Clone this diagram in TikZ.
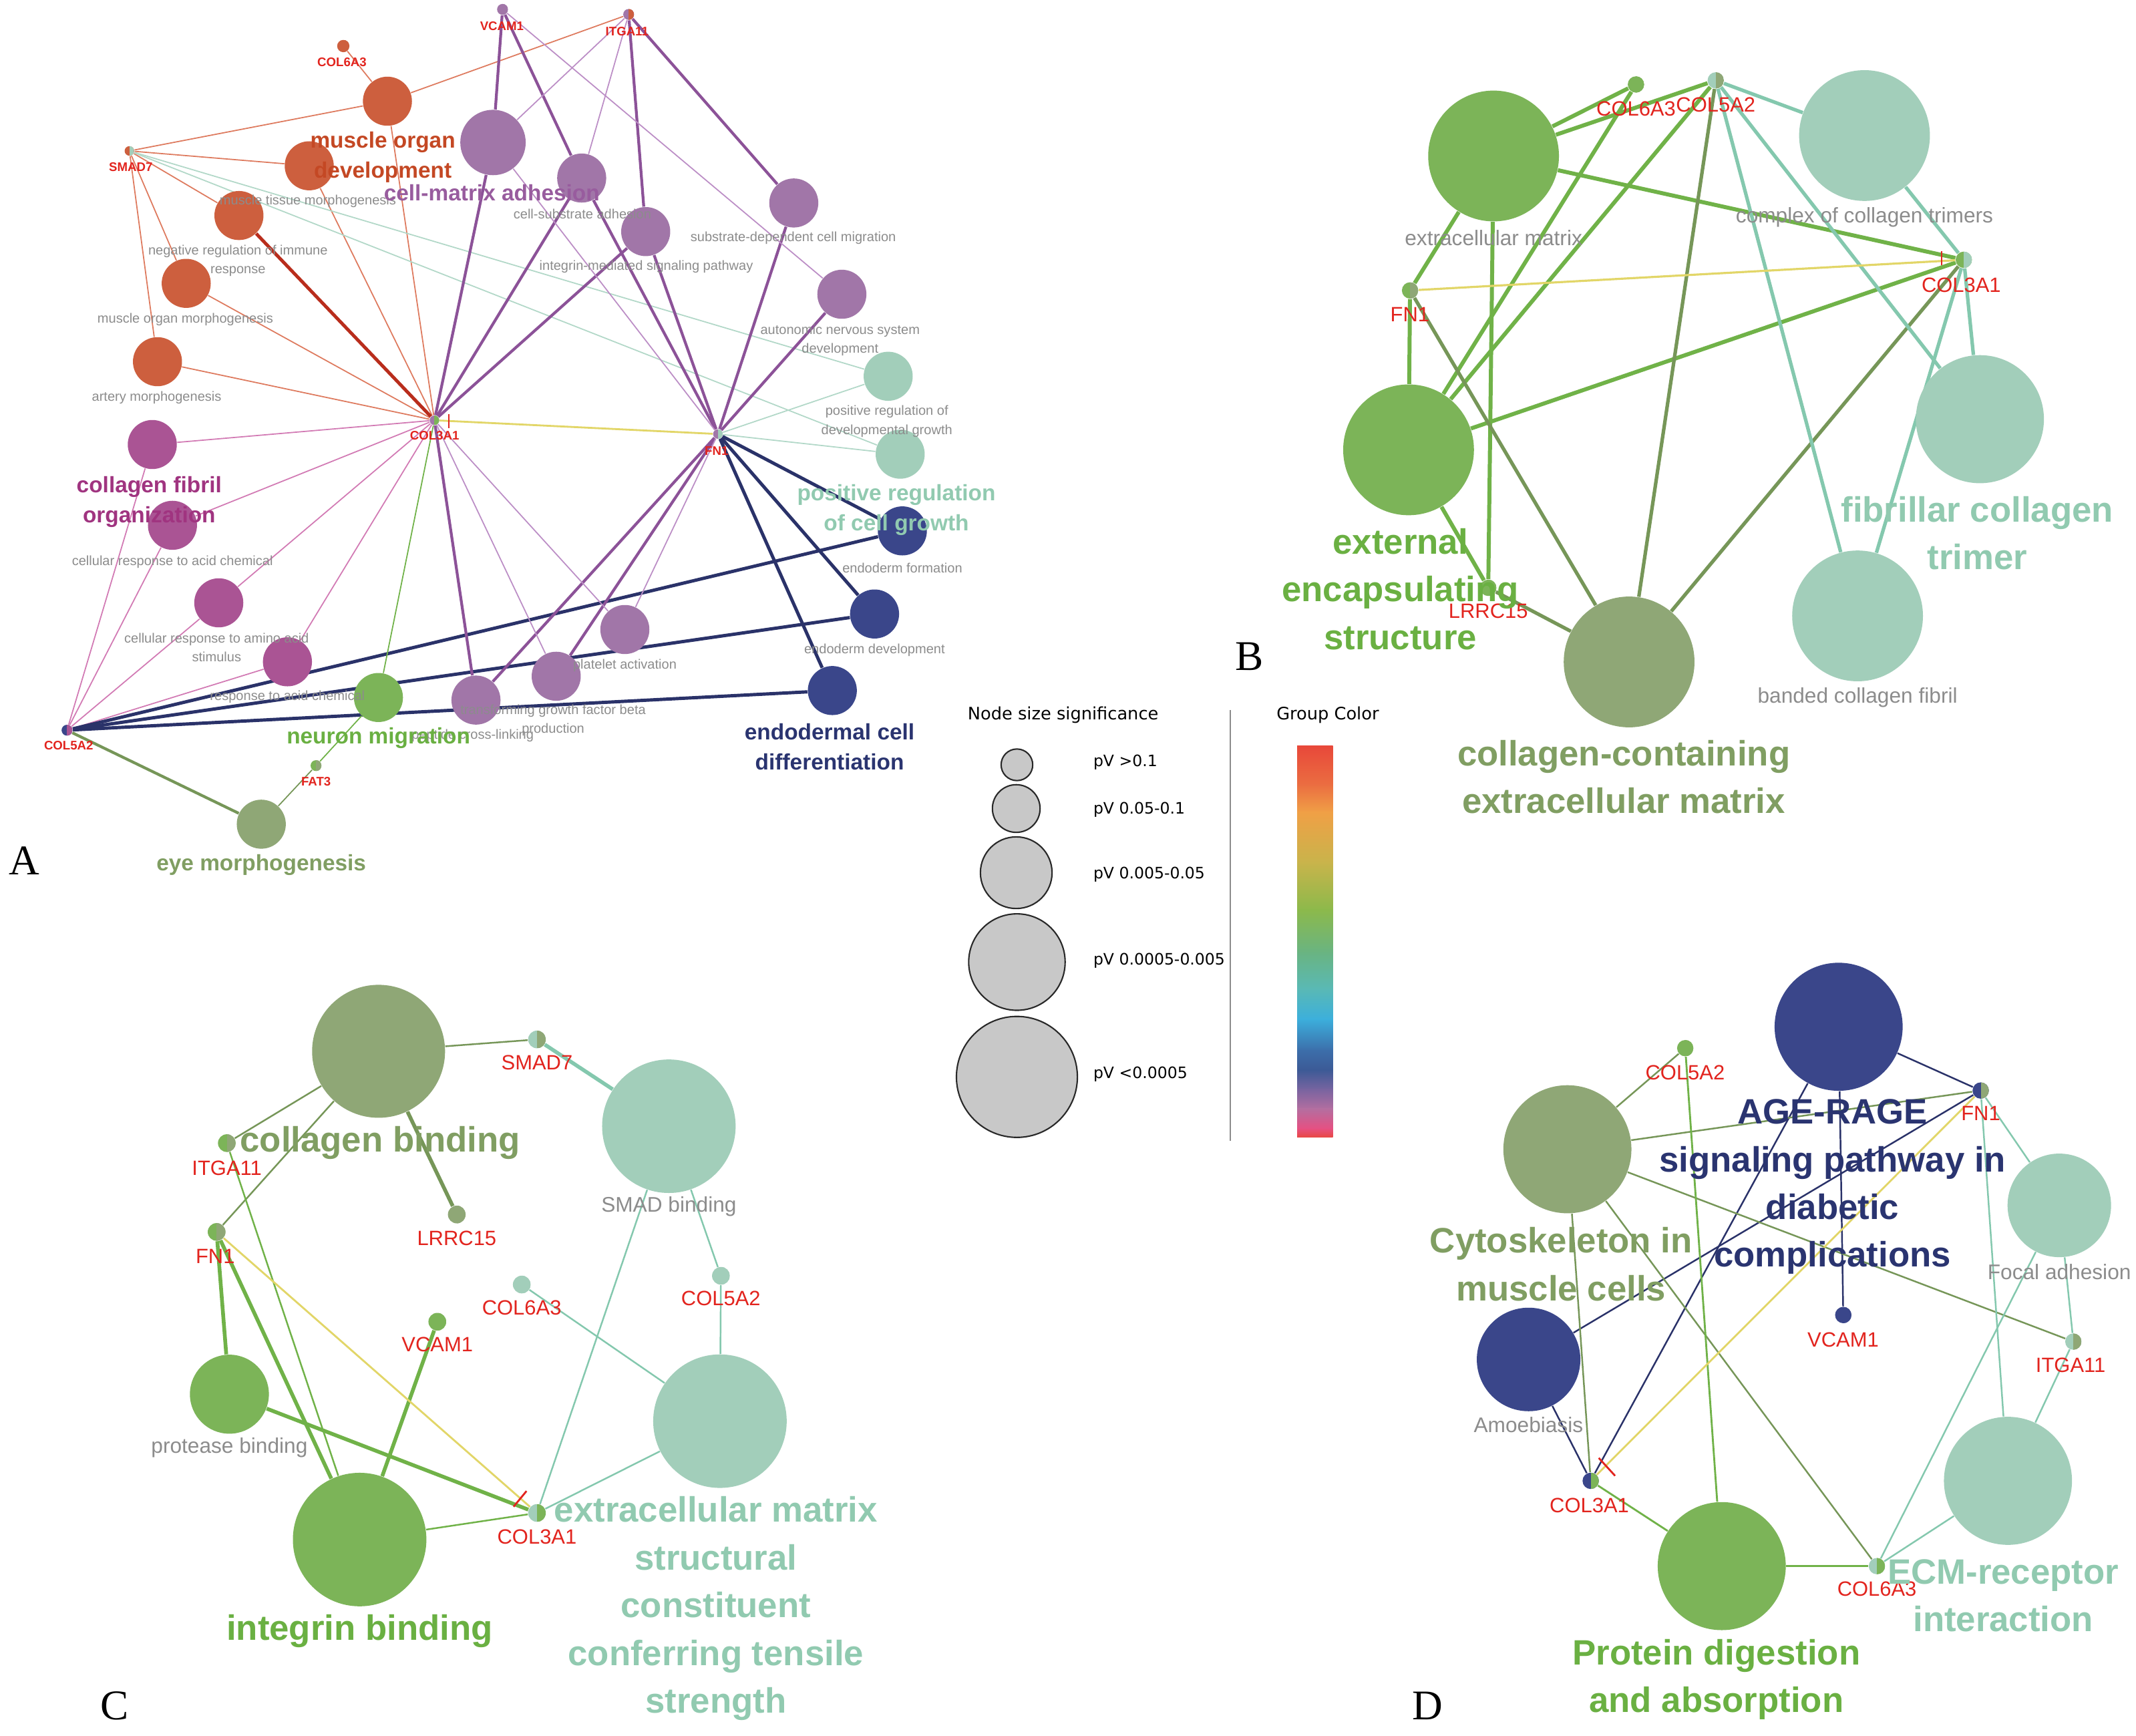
\documentclass[tikz,border=0pt]{standalone}
\usepackage{fontspec}
\setmainfont{Liberation Sans}
\newfontfamily\panelfont{Liberation Serif}
\newfontfamily\legendfont{DejaVu Sans}
\usepackage{tikz}
\usetikzlibrary{backgrounds}

\definecolor{orA}{RGB}{205,95,62}
\definecolor{orLn}{RGB}{222,122,94}
\definecolor{redLn}{RGB}{185,45,28}
\definecolor{magA}{RGB}{170,84,148}
\definecolor{magLn}{RGB}{210,122,180}
\definecolor{purA}{RGB}{161,118,168}
\definecolor{purLn}{RGB}{140,82,152}
\definecolor{purLt}{RGB}{188,142,198}
\definecolor{tealA}{RGB}{162,206,186}
\definecolor{tealLn}{RGB}{132,200,174}
\definecolor{tealLt}{RGB}{178,216,200}
\definecolor{navyA}{RGB}{58,70,138}
\definecolor{navyLn}{RGB}{42,50,105}
\definecolor{grnA}{RGB}{124,180,88}
\definecolor{grnLn}{RGB}{112,178,72}
\definecolor{olvA}{RGB}{143,167,118}
\definecolor{olvLn}{RGB}{118,150,88}
\definecolor{yelLn}{RGB}{226,214,104}
\definecolor{geneRed}{RGB}{226,36,30}
\definecolor{grayT}{RGB}{140,140,140}
\definecolor{musT}{RGB}{196,72,36}
\definecolor{purT}{RGB}{152,92,158}
\definecolor{magT}{RGB}{160,52,128}
\definecolor{tealT}{RGB}{145,202,176}
\definecolor{navyT}{RGB}{42,52,112}
\definecolor{grnT}{RGB}{106,176,66}
\definecolor{olvT}{RGB}{128,158,98}
\definecolor{legGray}{RGB}{200,200,200}
\definecolor{legLine}{RGB}{40,40,40}
\definecolor{gc0}{RGB}{232,72,58}
\definecolor{gc1}{RGB}{235,110,65}
\definecolor{gc2}{RGB}{240,160,70}
\definecolor{gc3}{RGB}{200,180,75}
\definecolor{gc4}{RGB}{140,185,75}
\definecolor{gc5}{RGB}{105,180,130}
\definecolor{gc6}{RGB}{90,185,180}
\definecolor{gc7}{RGB}{60,175,220}
\definecolor{gc8}{RGB}{60,110,170}
\definecolor{gc9}{RGB}{60,90,150}
\definecolor{gc10}{RGB}{120,100,160}
\definecolor{gc11}{RGB}{180,110,160}
\definecolor{gc12}{RGB}{230,80,130}
\definecolor{gc13}{RGB}{232,72,70}

\begin{document}
\begin{tikzpicture}[
    x=0.58pt, y=-0.58pt,
    term/.style 2 args={circle, fill=#1, inner sep=0pt, minimum size=#2*1.16pt},
    gene/.style n args={3}{circle, fill=#1, inner sep=0pt, minimum size=#3*1.16pt,
        path picture={\fill[#2] (path picture bounding box.south)
            rectangle (path picture bounding box.north east);}},
    gA/.style={font=\bfseries\fontsize{5.3}{6}\selectfont, text=geneRed, inner sep=0pt},
    gB/.style={font=\fontsize{8.8}{10}\selectfont, text=geneRed, inner sep=0pt},
    sA/.style={font=\fontsize{5.7}{8}\selectfont, text=grayT, align=center, inner sep=0pt},
    sB/.style={font=\fontsize{9}{10}\selectfont, text=grayT, inner sep=0pt},
    hA/.style={font=\bfseries\fontsize{9.5}{12.8}\selectfont, text=#1, align=center, inner sep=0pt},
    hB/.style={font=\bfseries\fontsize{15}{20.3}\selectfont, text=#1, align=center, inner sep=0pt},
    legtxt/.style={font=\legendfont\fontsize{6.7}{8}\selectfont, inner sep=0pt},
    legtitle/.style={font=\legendfont\fontsize{7.3}{8}\selectfont, inner sep=0pt},
    sizedot/.style={circle, fill=legGray, draw=legLine, line width=0.6pt,
        inner sep=0pt, minimum size=#1*1.16pt},
    panel/.style={font=\panelfont\fontsize{18}{18}\selectfont, inner sep=0pt},
    thinA/.style={line width=0.5pt},
    thickA/.style={line width=1.2pt}
]
\useasboundingbox (0,0) rectangle (1568,1274);

\node[term={orA}{18}] (aMusDev) at (284.4,74.3) {};
\node[term={orA}{18}] (aMusTis) at (227,121.7) {};
\node[term={orA}{18}] (aNegReg) at (175.4,158.2) {};
\node[term={orA}{18}] (aMusMor) at (136.7,208) {};
\node[term={orA}{18}] (aArtery) at (115.6,265.5) {};
\node[term={magA}{18}] (aColFib) at (111.8,326.3) {};
\node[term={magA}{18}] (aAcidCell) at (126.6,385.6) {};
\node[term={magA}{18}] (aAmino) at (160.6,442.5) {};
\node[term={magA}{18}] (aAcidResp) at (211,485.8) {};
\node[term={grnA}{18}] (aNeuron) at (277.8,512) {};
\node[term={olvA}{18}] (aEye) at (191.8,605) {};
\node[term={purA}{24}] (aCellMatrix) at (361.9,104.6) {};
\node[term={purA}{18}] (aCellSub) at (427,130.7) {};
\node[term={purA}{18}] (aIntegrin) at (474,170) {};
\node[term={purA}{18}] (aSubMig) at (582.7,149) {};
\node[term={purA}{18}] (aAutonomic) at (618,216) {};
\node[term={purA}{18}] (aPlatelet) at (458.7,462.1) {};
\node[term={purA}{18}] (aTGFB) at (408.3,496.4) {};
\node[term={purA}{18}] (aPeptide) at (349.4,513.9) {};
\node[term={tealA}{18}] (aDevGrowth) at (652,276.2) {};
\node[term={tealA}{18}] (aCellGrowth) at (660.8,333.4) {};
\node[term={navyA}{18}] (aEndoForm) at (662.4,389.7) {};
\node[term={navyA}{18}] (aEndoDev) at (642,450.7) {};
\node[term={navyA}{18}] (aEndoDiff) at (611,506.9) {};

\node[gene={orA}{orA}{4.5}] (aCOL6A3) at (252,33.8) {};
\node[gene={orA}{tealA}{3.5}] (aSMAD7) at (95,110.8) {};
\node[gene={purA}{purA}{4}] (aVCAM1) at (368.9,6.9) {};
\node[gene={purA}{orA}{4}] (aITGA11) at (461.5,10.6) {};
\node[gene={purA}{grnA}{3.5}] (aCOL3A1) at (318.9,308.5) {};
\node[gene={purA}{tealA}{3.5}] (aFN1) at (527,318.6) {};
\node[gene={navyA}{magA}{4}] (aCOL5A2) at (49.2,536) {};
\node[gene={grnA}{olvA}{4}] (aFAT3) at (232,562) {};

\node[gA] (aCOL6A3L) at (251,45.8) {COL6A3};
\node[gA] (aSMAD7L) at (96,122.5) {SMAD7};
\node[gA] (aVCAM1L) at (368.4,19.3) {VCAM1};
\node[gA] (aITGA11L) at (460.3,22.9) {ITGA11};
\node[gA] (aCOL3A1L) at (319,319.5) {COL3A1};
\node[gA] (aFN1L) at (526,331) {FN1};
\node[gA] (aCOL5A2L) at (50.4,547.4) {COL5A2};
\node[gA] (aFAT3L) at (232,573.6) {FAT3};

\node[sA] (aMusTisL) at (226,147.9) {muscle tissue morphogenesis};
\node[sA] (aNegRegL) at (174.7,191.2) {negative regulation of immune\\response};
\node[sA] (aMusMorL) at (136,234.5) {muscle organ morphogenesis};
\node[sA] (aArteryL) at (115,292) {artery morphogenesis};
\node[sA] (aAcidCellL) at (126.6,412.6) {cellular response to acid chemical};
\node[sA] (aAminoL) at (159,475.4) {cellular response to amino acid\\stimulus};
\node[sA] (aAcidRespL) at (211,511.5) {response to acid chemical};
\node[sA] (aCellSubL) at (427.5,157.2) {cell-substrate adhesion};
\node[sA] (aIntegrinL) at (474.4,195.6) {integrin-mediated signaling pathway};
\node[sA] (aSubMigL) at (582.3,174.5) {substrate-dependent cell migration};
\node[sA] (aAutonomicL) at (616.7,249.9) {autonomic nervous system\\development};
\node[sA] (aDevGrowthL) at (651,309.3) {positive regulation of\\developmental growth};
\node[sA] (aEndoFormL) at (662.4,416.7) {endoderm formation};
\node[sA] (aEndoDevL) at (642,477.2) {endoderm development};
\node[sA] (aPlateletL) at (458.7,488.6) {platelet activation};
\node[sA] (aTGFBL) at (406,528.6) {transforming growth factor beta\\production};
\node[sA] (aPeptideL) at (347,540) {peptide cross-linking};

\node[hA=musT] (aMusDevL) at (281,115.6) {muscle organ\\development};
\node[hA=purT] (aCellMatrixL) at (361,141.3) {cell-matrix adhesion};
\node[hA=magT] (aColFibL) at (109.5,368.5) {collagen fibril\\organization};
\node[hA=tealT] (aCellGrowthL) at (658,374.5) {positive regulation\\of cell growth};
\node[hA=navyT] (aEndoDiffL) at (609,548.2) {endodermal cell\\differentiation};
\node[hA=grnT] (aNeuronL) at (277.8,541.7) {neuron migration};
\node[hA=olvT] (aEyeL) at (191.8,634.8) {eye morphogenesis};

\draw[geneRed, line width=0.7pt] (329.4,303.9) -- (329.4,314.5);

\node[term={grnA}{48}] (bECM) at (1096.4,114.5) {};
\node[term={tealA}{48}] (bComplex) at (1368.7,99.5) {};
\node[term={grnA}{48}] (bExt) at (1034,330.2) {};
\node[term={tealA}{47}] (bFibr) at (1453.4,307.7) {};
\node[term={olvA}{48}] (bColECM) at (1195.9,485.9) {};
\node[term={tealA}{48}] (bBanded) at (1363.6,452.1) {};
\node[gene={grnA}{grnA}{6}] (bCOL6A3) at (1200.9,62) {};
\node[gene={tealA}{olvA}{6}] (bCOL5A2) at (1259.5,59) {};
\node[gene={grnA}{tealA}{6}] (bCOL3A1) at (1441.6,190.7) {};
\node[gene={grnA}{olvA}{6}] (bFN1) at (1035.1,213.2) {};
\node[gene={grnA}{grnA}{6}] (bLRRC15) at (1092.5,431.5) {};
\node[gB] (bCOL6A3L) at (1201,80) {COL6A3};
\node[gB] (bCOL5A2L) at (1259.5,77) {COL5A2};
\node[gB] (bCOL3A1L) at (1439.7,209.4) {COL3A1};
\node[gB] (bFN1L) at (1035,230.8) {FN1};
\node[gB] (bLRRC15L) at (1092.5,448.4) {LRRC15};
\node[sB] (bECML) at (1096.4,174.5) {extracellular matrix};
\node[sB] (bComplexL) at (1368.7,159.5) {complex of collagen trimers};
\node[sB] (bBandedL) at (1363.6,512) {banded collagen fibril};
\node[hB=grnT] (bExtL) at (1028,432.4) {external\\encapsulating\\structure};
\node[hB=tealT] (bFibrL) at (1451.4,391.2) {fibrillar collagen\\trimer};
\node[hB=olvT] (bColECML) at (1192,570.3) {collagen-containing\\extracellular matrix};
\draw[geneRed, line width=0.8pt] (1425.3,184.5) -- (1425.3,194.5);

\node[term={olvA}{48.8}] (cColBind) at (277.9,771.7) {};
\node[term={tealA}{49}] (cSMADBind) at (491,826.7) {};
\node[term={grnA}{29}] (cProtease) at (168.4,1023.4) {};
\node[term={tealA}{49}] (cECMStruct) at (528.5,1043.2) {};
\node[term={grnA}{49}] (cIntegrin) at (264,1130.1) {};
\node[gene={tealA}{olvA}{6.5}] (cSMAD7) at (394.2,763) {};
\node[gene={grnA}{olvA}{6.5}] (cITGA11) at (166.5,839.1) {};
\node[gene={olvA}{olvA}{6.5}] (cLRRC15) at (335.3,891.5) {};
\node[gene={grnA}{olvA}{6.5}] (cFN1) at (159,904.3) {};
\node[gene={tealA}{tealA}{6.5}] (cCOL6A3) at (383,942.9) {};
\node[gene={tealA}{tealA}{6.5}] (cCOL5A2) at (529.2,936.5) {};
\node[gene={grnA}{grnA}{6.5}] (cVCAM1) at (321,970.2) {};
\node[gene={tealA}{grnA}{6.5}] (cCOL3A1) at (394.2,1110.6) {};
\node[gB] (cSMAD7L) at (394.2,780) {SMAD7};
\node[gB] (cITGA11L) at (166.5,857.5) {ITGA11};
\node[gB] (cLRRC15L) at (335.3,909) {LRRC15};
\node[gB] (cFN1L) at (158,922.3) {FN1};
\node[gB] (cCOL6A3L) at (383,959.7) {COL6A3};
\node[gB] (cCOL5A2L) at (529.2,953.3) {COL5A2};
\node[gB] (cVCAM1L) at (321,987) {VCAM1};
\node[gB] (cCOL3A1L) at (394.2,1128.2) {COL3A1};
\node[sB] (cSMADBindL) at (491,885.5) {SMAD binding};
\node[sB] (cProteaseL) at (168.4,1062.7) {protease binding};
\node[hB=olvT] (cColBindL) at (279,839.1) {collagen binding};
\node[hB=grnT] (cIntegrinL) at (264,1197.5) {integrin binding};
\node[hB=tealT] (cECMStructL) at (525.5,1180.7)
    {extracellular matrix\\structural\\constituent\\conferring tensile\\strength};
\draw[geneRed, line width=0.8pt] (386.5,1094.5) -- (377,1106);

\node[term={navyA}{47}] (dAGE) at (1349.7,753.7) {};
\node[term={olvA}{47}] (dCyto) at (1150.6,843.6) {};
\node[term={tealA}{38}] (dFocal) at (1511.7,884.8) {};
\node[term={navyA}{38}] (dAmoeb) at (1122.1,997.9) {};
\node[term={tealA}{47}] (dECMRec) at (1474,1087) {};
\node[term={grnA}{47}] (dProtein) at (1263.9,1149.6) {};
\node[gene={grnA}{grnA}{6}] (dCOL5A2) at (1237.1,769.4) {};
\node[gene={navyA}{olvA}{6}] (dFN1) at (1454,800.5) {};
\node[gene={navyA}{navyA}{6}] (dVCAM1) at (1353.1,965.3) {};
\node[gene={tealA}{olvA}{6}] (dITGA11) at (1522,984.8) {};
\node[gene={navyA}{grnA}{6}] (dCOL3A1) at (1167.7,1087) {};
\node[gene={tealA}{grnA}{6}] (dCOL6A3) at (1377.8,1149.6) {};
\node[gB] (dCOL5A2L) at (1237,787.4) {COL5A2};
\node[gB] (dFN1L) at (1454,817.4) {FN1};
\node[gB] (dVCAM1L) at (1353,983.3) {VCAM1};
\node[gB] (dITGA11L) at (1520,1002) {ITGA11};
\node[gB] (dCOL3A1L) at (1166.7,1105) {COL3A1};
\node[gB] (dCOL6A3L) at (1377.8,1166.4) {COL6A3};
\node[sB] (dFocalL) at (1511.7,933.5) {Focal adhesion};
\node[sB] (dAmoebL) at (1122,1045.9) {Amoebiasis};
\node[hB=navyT] (dAGEL) at (1345.2,871.2)
    {AGE-RAGE\\signaling pathway in\\diabetic\\complications};
\node[hB=olvT] (dCytoL) at (1146,927.9) {Cytoskeleton in\\muscle cells};
\node[hB=tealT] (dECMRecL) at (1470.5,1171.4) {ECM-receptor\\interaction};
\node[hB=grnT] (dProteinL) at (1260,1232.8) {Protein digestion\\and absorption};
\draw[geneRed, line width=0.8pt] (1173.6,1070.2) -- (1185.6,1083.3);

\node[legtitle] (legSize) at (780.4,524.6) {Node size significance};
\node[legtitle] (legColor) at (974.7,524.6) {Group Color};
\node[sizedot=11.6] (lg1) at (746.5,561.4) {};
\node[sizedot=17.5] (lg2) at (746,593.5) {};
\node[sizedot=26.3] (lg3) at (746,640.6) {};
\node[sizedot=35.4] (lg4) at (746.5,706.2) {};
\node[sizedot=44.4] (lg5) at (746.5,790.5) {};
\node[legtxt, anchor=west] (lg1L) at (802.3,559.6) {pV >0.1};
\node[legtxt, anchor=west] (lg2L) at (802.3,594.2) {pV 0.05-0.1};
\node[legtxt, anchor=west] (lg3L) at (802.3,641.7) {pV 0.005-0.05};
\node[legtxt, anchor=west] (lg4L) at (802.3,705.1) {pV 0.0005-0.005};
\node[legtxt, anchor=west] (lg5L) at (802.3,788.3) {pV <0.0005};
\draw[grayT, line width=0.6pt] (903,521.3) -- (903,837.5);
\foreach \ya/\yb/\ca/\cb in {547.6/576.3/gc0/gc1, 576.3/596.3/gc1/gc2,
    596.3/633.6/gc2/gc3, 633.6/668/gc3/gc4, 668/699.5/gc4/gc5,
    699.5/725.3/gc5/gc6, 725.3/748.2/gc6/gc7, 748.2/771.1/gc7/gc8,
    771.1/785.5/gc8/gc9, 785.5/799.8/gc9/gc10, 799.8/814.1/gc10/gc11,
    814.1/828.5/gc11/gc12, 828.5/834.2/gc12/gc13}
    \shade[top color=\ca, bottom color=\cb] (952.2,\ya-0.3) rectangle (978.4,\yb+0.3);

\node[panel] (pA) at (18,632) {A};
\node[panel] (pB) at (917,482) {B};
\node[panel] (pC) at (84,1252) {C};
\node[panel] (pD) at (1048,1252) {D};

\begin{scope}[on background layer]
\fill[white] (0,0) rectangle (1568,1274);
\foreach \s/\t in {aSMAD7/aMusDev, aSMAD7/aMusTis, aSMAD7/aNegReg, aSMAD7/aMusMor,
    aSMAD7/aArtery, aCOL6A3/aMusDev, aITGA11/aMusDev, aMusDev/aCOL3A1,
    aMusTis/aCOL3A1, aMusMor/aCOL3A1, aArtery/aCOL3A1}
    \draw[orLn, thinA] (\s) -- (\t);
\draw[redLn, line width=1.4pt] (aNegReg) -- (aCOL3A1);
\foreach \s in {aColFib, aAcidCell, aAmino, aAcidResp}
    \draw[magLn, thinA] (aCOL5A2) -- (\s) -- (aCOL3A1);
\foreach \s/\t in {aSMAD7/aDevGrowth, aSMAD7/aCellGrowth, aFN1/aDevGrowth, aFN1/aCellGrowth}
    \draw[tealLt, thinA] (\s) -- (\t);
\foreach \t in {aEndoForm, aEndoDev, aEndoDiff}
    \draw[navyLn, line width=1.4pt] (aCOL5A2) -- (\t) -- (aFN1);
\draw[grnLn, thinA] (aCOL3A1) -- (aNeuron);
\draw[grnLn, thinA] (aNeuron) -- (aFAT3);
\draw[olvLn, thinA] (aFAT3) -- (aEye);
\draw[olvLn, line width=1.2pt] (aCOL5A2) -- (aEye);
\draw[yelLn, line width=0.8pt] (aCOL3A1) -- (aFN1);
\foreach \s/\t in {aVCAM1/aCellMatrix, aVCAM1/aCellSub, aITGA11/aIntegrin, aITGA11/aSubMig,
    aCellMatrix/aCOL3A1, aCellSub/aCOL3A1, aIntegrin/aCOL3A1, aCellSub/aFN1,
    aIntegrin/aFN1, aSubMig/aFN1, aAutonomic/aFN1, aCOL3A1/aPeptide,
    aPeptide/aFN1, aTGFB/aFN1}
    \draw[purLn, thickA] (\s) -- (\t);
\foreach \s/\t in {aVCAM1/aAutonomic, aITGA11/aCellMatrix, aITGA11/aCellSub,
    aCellMatrix/aFN1, aCOL3A1/aTGFB, aCOL3A1/aPlatelet, aPlatelet/aFN1}
    \draw[purLt, thinA] (\s) -- (\t);

\foreach \t in {bCOL6A3, bCOL5A2, bCOL3A1, bFN1, bLRRC15}
    \draw[grnLn, line width=1.7pt] (bECM) -- (\t);
\foreach \t in {bFN1, bCOL6A3, bCOL5A2, bCOL3A1, bLRRC15}
    \draw[grnLn, line width=1.7pt] (bExt) -- (\t);
\foreach \s in {bFN1, bLRRC15, bCOL5A2, bCOL3A1}
    \draw[olvLn, line width=1.5pt] (\s) -- (bColECM);
\foreach \s in {bCOL5A2, bCOL3A1}
    \foreach \t in {bComplex, bFibr, bBanded}
        \draw[tealLn, line width=1.5pt] (\s) -- (\t);
\draw[yelLn, line width=0.9pt] (bFN1) -- (bCOL3A1);

\foreach \t in {cSMAD7, cITGA11, cFN1}
    \draw[olvLn, line width=0.7pt] (cColBind) -- (\t);
\draw[olvLn, line width=1.6pt] (cColBind) -- (cLRRC15);
\draw[tealLn, line width=1.6pt] (cSMAD7) -- (cSMADBind);
\foreach \s/\t in {cITGA11/cIntegrin, cIntegrin/cCOL3A1}
    \draw[grnLn, line width=0.7pt] (\s) -- (\t);
\foreach \s/\t in {cFN1/cProtease, cFN1/cIntegrin, cVCAM1/cIntegrin, cProtease/cCOL3A1}
    \draw[grnLn, line width=1.6pt] (\s) -- (\t);
\draw[yelLn, line width=0.8pt] (cFN1) -- (cCOL3A1);
\foreach \s/\t in {cSMADBind/cCOL3A1, cSMADBind/cCOL5A2, cCOL5A2/cECMStruct,
    cCOL6A3/cECMStruct, cECMStruct/cCOL3A1}
    \draw[tealLn, line width=0.7pt] (\s) -- (\t);

\foreach \s/\t in {dAGE/dFN1, dAGE/dVCAM1, dAGE/dCOL3A1, dAmoeb/dFN1, dAmoeb/dCOL3A1}
    \draw[navyLn, line width=0.7pt] (\s) -- (\t);
\foreach \t in {dCOL5A2, dFN1, dITGA11, dCOL3A1, dCOL6A3}
    \draw[olvLn, line width=0.7pt] (dCyto) -- (\t);
\foreach \s/\t in {dCOL5A2/dProtein, dCOL3A1/dProtein, dProtein/dCOL6A3}
    \draw[grnLn, line width=0.8pt] (\s) -- (\t);
\draw[yelLn, line width=0.8pt] (dFN1) -- (dCOL3A1);
\foreach \s/\t in {dFN1/dFocal, dFN1/dECMRec, dFocal/dITGA11, dITGA11/dECMRec,
    dFocal/dCOL6A3, dECMRec/dCOL6A3}
    \draw[tealLn, line width=0.7pt] (\s) -- (\t);
\end{scope}
\end{tikzpicture}
\end{document}
